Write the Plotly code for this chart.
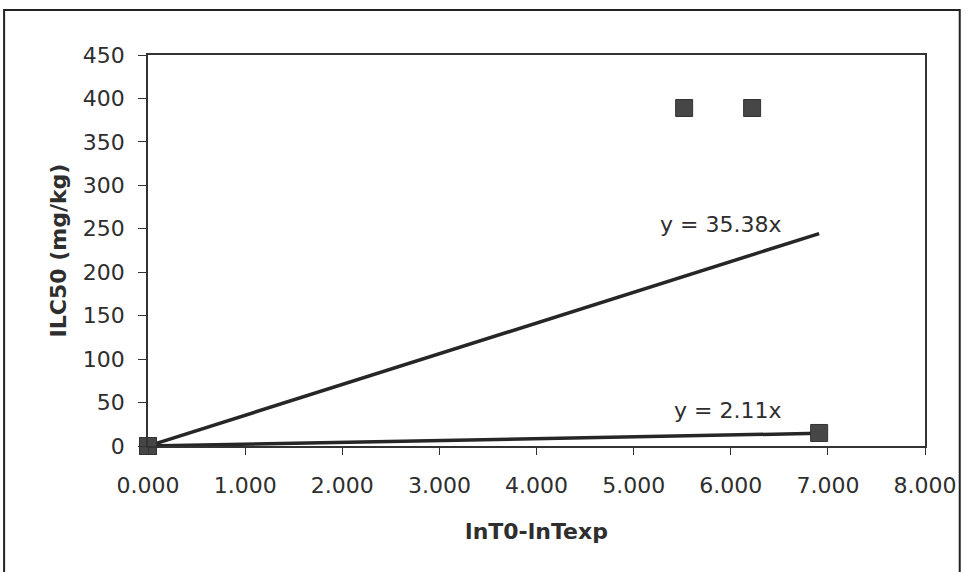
import plotly.graph_objects as go

# Data
x_upper = [0.0, 5.52, 6.22]
y_upper = [0.0, 389.0, 389.0]
x_lower = [0.0, 6.91]
y_lower = [0.0, 15.0]

slope_upper = 35.38
slope_lower = 2.11
trend_x = [0.0, 6.91]

label_upper = "y = 35.38x"
label_lower = "y = 2.11x"
x_ticks = [0, 1, 2, 3, 4, 5, 6, 7, 8]
y_ticks = [0, 50, 100, 150, 200, 250, 300, 350, 400, 450]

FONT = "DejaVu Sans, Arial, sans-serif"
TXT_C = "#2e2e2e"
LINE_C = "#262626"
MARK_C = "#464646"

fig = go.Figure()

fig.add_trace(go.Scatter(
    x=trend_x, y=[slope_upper * v for v in trend_x], mode="lines",
    line=dict(color=LINE_C, width=3.5), showlegend=False, hoverinfo="skip"))
fig.add_trace(go.Scatter(
    x=trend_x, y=[slope_lower * v for v in trend_x], mode="lines",
    line=dict(color=LINE_C, width=3.5), showlegend=False, hoverinfo="skip"))

fig.add_trace(go.Scatter(
    x=x_upper, y=y_upper, mode="markers",
    marker=dict(symbol="square", size=17, color=MARK_C,
                line=dict(color="#333333", width=1)),
    showlegend=False, cliponaxis=False))
fig.add_trace(go.Scatter(
    x=x_lower, y=y_lower, mode="markers",
    marker=dict(symbol="square", size=17, color=MARK_C,
                line=dict(color="#333333", width=1)),
    showlegend=False, cliponaxis=False))

fig.add_annotation(x=5.89, y=255, text=label_upper, showarrow=False,
                   font=dict(family=FONT, size=22, color=TXT_C))
fig.add_annotation(x=5.97, y=41, text=label_lower, showarrow=False,
                   font=dict(family=FONT, size=22, color=TXT_C))

# outer chart border
fig.add_shape(type="rect", xref="paper", yref="paper",
              x0=-0.1852, x1=1.0447, y0=-0.36, y1=1.115,
              line=dict(color="#222222", width=2))

fig.update_xaxes(
    range=[0, 8], tickvals=x_ticks, ticktext=[f"{v:.3f}" for v in x_ticks],
    showline=True, linecolor="#333333", linewidth=1.5, mirror=True,
    ticks="outside", ticklen=7, tickcolor="#333333", tickwidth=1.2,
    ticklabelstandoff=12,
    showgrid=False, zeroline=False,
    tickfont=dict(family=FONT, size=22, color=TXT_C),
    title=dict(text="<b>lnT0-lnTexp</b>", standoff=26,
               font=dict(family=FONT, size=22, color=TXT_C)))
fig.update_yaxes(
    range=[0, 450], tickvals=y_ticks,
    showline=True, linecolor="#333333", linewidth=1.5, mirror=True,
    ticks="outside", ticklen=8, tickcolor="#333333", tickwidth=1.2,
    ticklabelstandoff=9,
    showgrid=False, zeroline=False,
    tickfont=dict(family=FONT, size=22, color=TXT_C),
    title=dict(text="<b>ILC50 (mg/kg)</b>", standoff=10,
               font=dict(family=FONT, size=22, color=TXT_C)))

fig.update_layout(
    width=968, height=572,
    margin=dict(l=148, r=37, t=55, b=126),
    plot_bgcolor="white", paper_bgcolor="white",
    showlegend=False)

fig.write_html("out.html", config={"displayModeBar": False},
               post_script="document.body.style.margin='0px';")
